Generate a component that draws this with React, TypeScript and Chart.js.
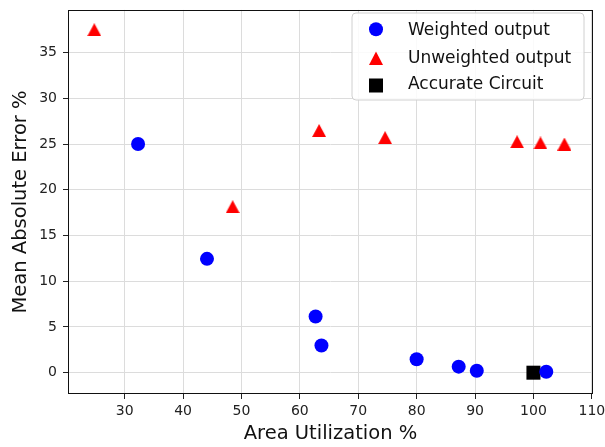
import React, { useEffect, useRef } from 'react';
import { Chart, registerables } from 'chart.js';

Chart.register(...registerables);

const seriesNames = ['Weighted output', 'Unweighted output', 'Accurate Circuit'];
const seriesColors = ['#0000ff', '#ff0000', '#000000'];

const weightedX = [32.3, 44.1, 62.7, 63.7, 80.0, 87.2, 90.3, 102.2];
const weightedY = [25.0, 12.45, 6.15, 2.97, 1.47, 0.66, 0.22, 0.1];

const unweightedX = [24.8, 48.5, 63.3, 74.6, 97.2, 101.2, 105.3];
const unweightedY = [37.5, 18.15, 26.48, 25.7, 25.25, 25.12, 25.0];

const accurateX = [100];
const accurateY = [0];

const xTicks = [30, 40, 50, 60, 70, 80, 90, 100, 110];
const yTicks = [0, 5, 10, 15, 20, 25, 30, 35];

const xTitle = 'Area Utilization %';
const yTitle = 'Mean Absolute Error %';

const FONT = "'DejaVu Sans', sans-serif";

function makeTriangle(w: number, h: number, color: string): HTMLCanvasElement {
  const c = document.createElement('canvas');
  c.width = w;
  c.height = h;
  const ctx = c.getContext('2d')!;
  ctx.fillStyle = color;
  ctx.beginPath();
  ctx.moveTo(w / 2, 0);
  ctx.lineTo(w, h);
  ctx.lineTo(0, h);
  ctx.closePath();
  ctx.fill();
  return c;
}

const framePlugin = {
  id: 'frame',
  afterDatasetsDraw(chart: any) {
    const { ctx, chartArea } = chart;
    ctx.save();
    ctx.strokeStyle = '#111';
    ctx.lineWidth = 1;
    ctx.strokeRect(
      Math.round(chartArea.left) + 0.5,
      Math.round(chartArea.top) + 0.5,
      Math.round(chartArea.right - chartArea.left) - 1,
      Math.round(chartArea.bottom - chartArea.top) - 1
    );
    ctx.restore();
  },
};

const legendPlugin = {
  id: 'customLegend',
  afterDraw(chart: any) {
    const { ctx } = chart;
    ctx.save();
    const bx = 352, by = 13, bw = 232, bh = 87, r = 4;
    ctx.beginPath();
    ctx.moveTo(bx + r, by);
    ctx.lineTo(bx + bw - r, by);
    ctx.arcTo(bx + bw, by, bx + bw, by + r, r);
    ctx.lineTo(bx + bw, by + bh - r);
    ctx.arcTo(bx + bw, by + bh, bx + bw - r, by + bh, r);
    ctx.lineTo(bx + r, by + bh);
    ctx.arcTo(bx, by + bh, bx, by + bh - r, r);
    ctx.lineTo(bx, by + r);
    ctx.arcTo(bx, by, bx + r, by, r);
    ctx.closePath();
    ctx.fillStyle = 'rgba(255,255,255,0.85)';
    ctx.fill();
    ctx.strokeStyle = '#d0d0d0';
    ctx.lineWidth = 1;
    ctx.stroke();

    const mx = 376;
    ctx.fillStyle = seriesColors[0];
    ctx.beginPath();
    ctx.arc(mx, 29.3, 7, 0, Math.PI * 2);
    ctx.fill();
    ctx.fillStyle = seriesColors[1];
    ctx.beginPath();
    ctx.moveTo(mx, 51.5);
    ctx.lineTo(mx + 7, 65);
    ctx.lineTo(mx - 7, 65);
    ctx.closePath();
    ctx.fill();
    ctx.fillStyle = seriesColors[2];
    ctx.fillRect(mx - 7, 78.5, 14, 14);

    ctx.fillStyle = '#111';
    ctx.font = `17px ${FONT}`;
    ctx.textAlign = 'left';
    ctx.textBaseline = 'alphabetic';
    const baselines = [35, 62.5, 89.3];
    seriesNames.forEach((n, i) => ctx.fillText(n, 408, baselines[i]));
    ctx.restore();
  },
};

export default function App() {
  const ref = useRef<HTMLCanvasElement | null>(null);

  useEffect(() => {
    document.body.style.margin = '0';
    if (!ref.current) return;
    const tri = makeTriangle(14, 13, seriesColors[1]);
    const chart = new Chart(ref.current, {
      type: 'scatter',
      data: {
        datasets: [
          {
            label: seriesNames[0],
            data: weightedX.map((x, i) => ({ x, y: weightedY[i] })),
            backgroundColor: seriesColors[0],
            borderWidth: 0,
            pointStyle: 'circle',
            pointRadius: 7,
          },
          {
            label: seriesNames[1],
            data: unweightedX.map((x, i) => ({ x, y: unweightedY[i] })),
            backgroundColor: seriesColors[1],
            borderWidth: 0,
            pointStyle: tri as any,
            pointRadius: 7,
          },
          {
            label: seriesNames[2],
            data: accurateX.map((x, i) => ({ x, y: accurateY[i] })),
            backgroundColor: seriesColors[2],
            borderWidth: 0,
            pointStyle: 'rect',
            pointRadius: 9.9,
          },
        ],
      },
      options: {
        responsive: false,
        animation: false,
        events: [],
        layout: { padding: { top: 3, right: 12, left: 0, bottom: 0 } },
        plugins: {
          legend: { display: false },
          tooltip: { enabled: false },
        },
        scales: {
          x: {
            type: 'linear',
            min: 20.3,
            max: 110.2,
            afterBuildTicks: (s: any) => {
              s.ticks = xTicks.map((v) => ({ value: v }));
            },
            afterFit: (s: any) => {
              s.height = 53;
              s.paddingLeft = 0;
              s.paddingRight = 0;
            },
            grid: { color: '#dcdcdc', lineWidth: 1, tickColor: '#222', tickLength: 5 },
            border: { display: false },
            ticks: { color: '#222', font: { family: FONT, size: 14 }, padding: 4, maxRotation: 0 },
            title: {
              display: true,
              text: xTitle,
              color: '#111',
              font: { family: FONT, size: 19.5 },
              padding: { top: 0, bottom: 1 },
            },
          },
          y: {
            type: 'linear',
            min: -2.33,
            max: 39.67,
            afterBuildTicks: (s: any) => {
              s.ticks = yTicks.map((v) => ({ value: v }));
            },
            afterFit: (s: any) => {
              s.width = 68;
              s.paddingTop = 0;
              s.paddingBottom = 0;
            },
            grid: { color: '#dcdcdc', lineWidth: 1, tickColor: '#222', tickLength: 5 },
            border: { display: false },
            ticks: { color: '#222', font: { family: FONT, size: 14 }, padding: 6 },
            title: {
              display: true,
              text: yTitle,
              color: '#111',
              font: { family: FONT, size: 19.5 },
              padding: { top: 9, bottom: 0 },
            },
          },
        },
      },
      plugins: [framePlugin, legendPlugin],
    });
    return () => chart.destroy();
  }, []);

  return (
    <div style={{ position: 'fixed', left: 0, top: 0, width: 605, height: 447, background: '#fff' }}>
      <canvas ref={ref} width={605} height={447} style={{ width: 605, height: 447 }} />
    </div>
  );
}
